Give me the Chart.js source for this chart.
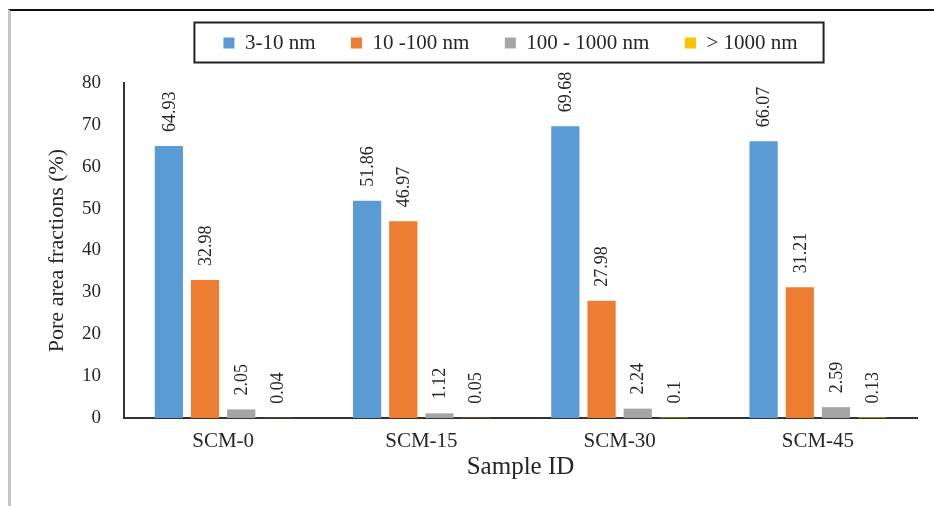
<!DOCTYPE html>
<html>
<head>
<meta charset="utf-8">
<script src="https://cdn.jsdelivr.net/npm/chart.js@4.4.1/dist/chart.umd.min.js"></script>
<style>
  html, body { margin: 0; padding: 0; background: #fff; }
  #wrap { position: relative; width: 934px; height: 506px; }
  #frame {
    position: absolute; left: 8px; top: 9px; right: 0; bottom: 0;
    border-top: 2px solid #111; border-left: 3px solid #c4c4c4;
    pointer-events: none;
  }
</style>
</head>
<body>
<div id="wrap">
  <canvas id="chart" width="934" height="506"></canvas>
  <div id="frame"></div>
</div>
<script>
const samples = ['SCM-0', 'SCM-15', 'SCM-30', 'SCM-45'];
const seriesNames = ['3-10 nm', '10 -100 nm', '100 - 1000 nm', '> 1000 nm'];
const seriesColors = ['#5B9BD5', '#ED7D31', '#A5A5A5', '#FFC000'];
const pores3to10 = [64.93, 51.86, 69.68, 66.07];
const pores10to100 = [32.98, 46.97, 27.98, 31.21];
const pores100to1000 = [2.05, 1.12, 2.24, 2.59];
const poresOver1000 = [0.04, 0.05, 0.1, 0.13];
const yTicks = [0, 10, 20, 30, 40, 50, 60, 70, 80];

const SERIF = '"Liberation Serif", "Times New Roman", serif';
const TEXT = '#262626';

const seriesValues = [pores3to10, pores10to100, pores100to1000, poresOver1000];

// value labels, rotated, sitting above each bar
const barLabels = {
  id: 'barLabels',
  afterDatasetsDraw(chart) {
    const ctx = chart.ctx;
    chart.data.datasets.forEach((ds, i) => {
      chart.getDatasetMeta(i).data.forEach((bar, j) => {
        ctx.save();
        ctx.translate(bar.x + 1, bar.y - 14);
        ctx.rotate(-Math.PI / 2);
        ctx.font = '18px ' + SERIF;
        ctx.fillStyle = TEXT;
        ctx.textAlign = 'left';
        ctx.textBaseline = 'middle';
        ctx.fillText(String(ds.data[j]), 0, 0);
        ctx.restore();
      });
    });
  }
};

// nudge legend and put a frame round it
const legendBox = {
  id: 'legendBox',
  afterLayout(chart) {
    chart.legend.left -= 10;
    chart.legend.right -= 10;
  },
  afterDraw(chart) {
    const hb = chart.legend.legendHitBoxes;
    if (!hb || !hb.length) return;
    const last = hb[hb.length - 1];
    const x0 = hb[0].left - 29, x1 = last.left + last.width + 26;
    const y0 = hb[0].top - 10, y1 = hb[0].top + hb[0].height + 9;
    const ctx = chart.ctx;
    ctx.save();
    ctx.strokeStyle = '#222';
    ctx.lineWidth = 2;
    ctx.strokeRect(x0, y0, x1 - x0, y1 - y0);
    ctx.restore();
  }
};

new Chart(document.getElementById('chart'), {
  type: 'bar',
  data: {
    labels: samples,
    datasets: seriesNames.map((name, i) => ({
      label: name,
      data: seriesValues[i],
      backgroundColor: seriesColors[i],
      borderWidth: 0,
      categoryPercentage: 0.73,
      barPercentage: 0.78
    }))
  },
  options: {
    responsive: false,
    animation: false,
    layout: { padding: { left: 36, right: 17, top: -3, bottom: 20 } },
    plugins: {
      tooltip: { enabled: false },
      legend: {
        position: 'top',
        fullSize: false,
        labels: {
          boxWidth: 11, boxHeight: 11, padding: 35.5,
          color: TEXT,
          font: { family: SERIF, size: 21 }
        }
      },
      subtitle: {
        display: true, text: '', fullSize: false, weight: 500,
        font: { size: 10, lineHeight: 1 },
        padding: { top: 4.75, bottom: 4.75 }
      }
    },
    scales: {
      x: {
        grid: { display: false, drawTicks: false },
        border: { display: true, color: '#333', width: 2 },
        ticks: { color: TEXT, padding: 13, font: { family: SERIF, size: 21, lineHeight: 20 / 21 } },
        title: {
          display: true, text: 'Sample ID', color: TEXT,
          font: { family: SERIF, size: 25 },
          padding: { top: -12, bottom: 4 }
        }
      },
      y: {
        min: yTicks[0], max: yTicks[yTicks.length - 1],
        afterBuildTicks(scale) { scale.ticks = yTicks.map(v => ({ value: v })); },
        grid: { display: false, drawTicks: false },
        border: { display: true, color: '#333', width: 2 },
        ticks: { color: TEXT, padding: 23, font: { family: SERIF, size: 19 } },
        title: {
          display: true, text: 'Pore area fractions (%)', color: TEXT,
          font: { family: SERIF, size: 22 },
          padding: { top: 7.8, bottom: -11.2 }
        }
      }
    }
  },
  plugins: [barLabels, legendBox]
});
</script>
</body>
</html>
